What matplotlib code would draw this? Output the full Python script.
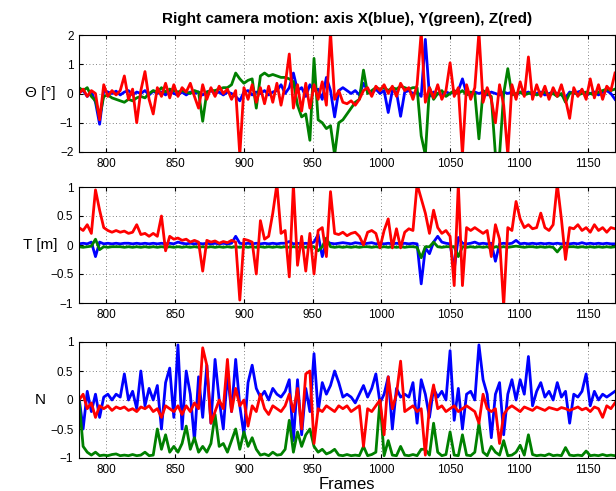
import numpy as np
import matplotlib
matplotlib.use('Agg')
import matplotlib.pyplot as plt

plt.rcParams['font.family'] = ['Liberation Sans', 'DejaVu Sans']

# frame numbers, one sample every 3 frames
frames = np.arange(780, 1171, 3)

# rotation angles [deg]
theta_x = [0.05, 0.1, -0.1, 0.05, -0.3, -1.05, 0.1, 0.05, 0.0, 0.08,
           -0.05, 0.05, 0.1, -0.05, 0.05, 0.0, 0.1, -0.05, 0.08, 0.0,
           0.05, -0.05, 0.1, 0.0, -0.05, 0.05, -0.05, 0.05, 0.0, 0.05,
           -0.05, 0.05, 0.1, 0.0, 0.05, -0.05, 0.05, 0.0, -0.1, -0.25,
           0.05, 0.1, -0.05, 0.05, 0.0, 0.1, -0.05, 0.05, 0.1, 0.3,
           0.0, 0.2, 0.7, 0.1, 0.2, -0.1, 0.3, 0.1, 0.15, -0.2,
           0.55, 0.1, -0.8, 0.1, 0.2, 0.1, 0.0, 0.1, -0.05, 0.35,
           0.1, 0.0, 0.15, 0.0, 0.1, -0.65, 0.1, 0.05, -0.78, 0.05,
           0.1, 0.0, 0.05, -0.1, 1.85, -0.1, 0.05, 0.0, -0.05, 0.05,
           0.0, 0.05, 0.1, 0.5, 0.0, -0.05, 0.05, 0.0, 0.05, -0.05,
           0.05, 0.0, -0.05, 0.05, 0.0, 0.05, -0.05, 0.05, 0.0, 0.05,
           -0.05, 0.0, 0.05, -0.05, 0.0, 0.05, 0.0, -0.05, -0.15, 0.05,
           0.0, 0.05, 0.1, -0.05, 0.0, 0.05, -0.05, 0.05, 0.1, 0.0,
           -0.2]
theta_y = [0.2, 0.1, 0.2, -0.1, -0.25, -0.8, -0.1, -0.05, -0.15, -0.2,
           -0.25, -0.3, -0.2, -0.25, -0.15, -0.1, -0.15, 0.0, 0.1, 0.05,
           0.2, 0.05, 0.15, 0.1, 0.05, 0.1, 0.05, 0.0, 0.1, 0.05,
           -0.95, 0.05, 0.1, 0.1, 0.15, 0.2, 0.2, 0.3, 0.7, 0.5,
           0.35, 0.45, 0.5, -0.5, 0.6, 0.7, 0.6, 0.65, 0.6, 0.55,
           0.55, 0.5, 0.4, -0.4, -0.8, -0.7, -1.6, 1.2, -0.9, -1.0,
           -1.2, -1.1, -2.1, -1.0, -0.9, -0.7, -0.5, -0.3, -0.2, 0.8,
           0.0, 0.1, 0.2, 0.15, 0.2, 0.1, 0.2, 0.15, 0.25, 0.2,
           0.15, 0.2, 0.2, -1.45, -2.1, 0.2, -0.2, 0.0, 0.1, -0.1,
           0.0, 0.1, 0.0, 0.1, -0.05, 0.05, 0.0, -1.55, 0.1, 0.0,
           -0.1, -2.1, -2.1, 0.0, 0.85, -0.05, 0.0, 0.05, -0.05, 0.0,
           0.05, -0.05, 0.0, 0.05, -0.05, 0.0, -0.1, 0.0, -0.3, 0.0,
           0.05, -0.05, 0.0, 0.05, 0.0, -0.05, 0.05, 0.1, 0.15, 0.1,
           0.15]
theta_z = [0.0, 0.15, -0.1, 0.1, 0.0, -0.9, 0.3, -0.1, 0.1, -0.05,
           0.1, 0.6, -0.2, 0.15, -1.0, 0.1, 0.75, -0.2, -0.7, 0.2,
           -0.1, 0.35, -0.15, 0.3, -0.1, 0.2, 0.05, 0.35, -0.1, -0.5,
           0.3, -0.2, 0.2, -0.1, 0.25, 0.0, 0.15, -0.2, 0.1, -2.1,
           0.2, -0.2, 0.3, -0.3, 0.2, -0.35, 0.25, -0.3, 0.35, -0.4,
           0.3, 1.35, -0.5, 0.3, -0.6, 0.35, -0.5, 0.3, -0.2, 0.4,
           -0.4, 2.1, -0.2, 0.1, -0.3, -0.35, -0.25, -0.4, -0.2, 0.1,
           0.2, -0.1, 0.25, 0.1, 0.3, 0.0, 0.25, -0.1, 0.35, 0.1,
           0.2, -0.2, 0.3, 2.1, -0.3, 0.2, -0.15, 0.3, -0.2, 0.1,
           1.05, -0.1, 0.2, -2.1, 0.3, -0.2, 0.2, 2.1, -0.3, 0.2,
           -0.2, -1.0, 0.3, -0.4, -2.1, 0.3, -0.2, 0.4, -0.1, 1.25,
           -0.2, 0.3, -0.1, 0.25, -0.2, 0.2, -0.1, 0.3, -0.2, -0.85,
           0.2, -0.1, 0.15, -0.2, 0.5, -0.15, 0.3, -0.2, 0.25, 0.1,
           0.7]

# translations [m]
t_x = [0.02, 0.03, 0.02, 0.05, -0.2, 0.05, 0.02, 0.03, 0.02, 0.03,
       0.02, 0.03, 0.03, 0.02, 0.03, 0.02, 0.03, 0.02, 0.03, 0.02,
       0.03, 0.02, 0.03, 0.02, 0.05, 0.03, 0.02, 0.03, 0.02, 0.03,
       0.02, 0.03, 0.02, 0.03, 0.02, 0.03, 0.02, 0.03, 0.15, 0.03,
       0.02, 0.03, 0.02, 0.03, 0.02, 0.03, 0.02, 0.03, 0.02, 0.03,
       0.03, 0.06, 0.02, 0.03, 0.02, 0.03, 0.02, 0.05, 0.18, -0.2,
       0.05, 0.03, 0.02, 0.03, 0.04, 0.03, 0.02, 0.04, 0.03, 0.02,
       0.03, 0.04, 0.02, 0.03, 0.02, 0.03, 0.02, 0.03, 0.02, 0.03,
       0.02, 0.03, 0.02, -0.67, -0.05, -0.15, 0.05, 0.15, 0.05, 0.03,
       0.02, -0.42, 0.13, 0.03, 0.02, 0.03, 0.05, 0.02, 0.03, 0.02,
       0.03, -0.28, 0.02, 0.03, 0.02, 0.03, 0.08, 0.02, 0.03, 0.02,
       0.03, 0.02, 0.03, 0.02, 0.03, 0.02, 0.03, 0.02, 0.03, 0.02,
       0.03, 0.02, 0.04, 0.02, 0.03, 0.02, 0.03, 0.02, 0.03, 0.02,
       0.02]
t_y = [-0.03, -0.04, -0.03, -0.02, 0.1, -0.08, -0.03, -0.04, -0.03, -0.03,
       -0.03, -0.04, -0.03, -0.04, -0.03, -0.04, -0.03, -0.04, -0.03, -0.04,
       -0.03, -0.04, -0.03, -0.04, -0.03, -0.04, -0.03, -0.04, -0.03, -0.04,
       -0.03, -0.04, -0.03, -0.04, -0.03, -0.04, -0.03, -0.04, -0.03, -0.04,
       -0.03, -0.04, -0.03, -0.04, -0.03, -0.04, -0.03, -0.04, -0.03, -0.04,
       -0.03, -0.04, -0.03, -0.04, -0.03, -0.04, -0.03, -0.03, -0.1, -0.03,
       0.12, -0.03, -0.04, -0.03, -0.04, -0.03, -0.04, -0.03, -0.04, -0.03,
       -0.03, -0.04, -0.03, -0.04, -0.03, -0.04, -0.03, -0.04, -0.03, -0.04,
       -0.03, -0.03, -0.04, -0.22, -0.03, -0.03, 0.05, -0.03, -0.04, -0.03,
       -0.03, -0.03, -0.2, -0.03, -0.04, -0.03, -0.04, -0.03, -0.04, -0.03,
       -0.06, -0.03, -0.04, -0.03, -0.04, -0.03, -0.02, -0.03, -0.04, -0.03,
       -0.03, -0.04, -0.03, -0.04, -0.03, -0.04, -0.12, -0.03, -0.04, -0.03,
       -0.03, -0.04, -0.03, -0.04, -0.03, -0.04, -0.03, -0.04, -0.03, -0.04,
       -0.03]
t_z = [0.3, 0.25, 0.35, 0.2, 0.95, 0.6, 0.3, 0.25, 0.22, 0.25,
       0.22, 0.24, 0.2, 0.22, 0.35, 0.18, 0.2, 0.15, 0.2, 0.15,
       0.5, -0.1, 0.15, 0.1, 0.12, 0.08, 0.1, 0.05, 0.08, 0.05,
       -0.45, 0.08, 0.05, 0.07, 0.03, 0.06, 0.04, 0.08, 0.05, -0.95,
       0.1, 0.08, 0.05, -0.5, 0.42, 0.1, 0.15, 0.55, 1.05, 0.2,
       0.25, -0.55, 1.05, -0.35, 0.15, -0.45, 0.2, -0.5, 0.25, 0.3,
       -0.2, 0.92, 0.2, 0.18, 0.22, 0.16, 0.2, 0.22, 0.15, 0.0,
       0.22, 0.25, 0.2, -0.05, 0.25, 0.45, -0.05, 0.28, -0.05, 0.22,
       0.28, 0.25, 1.05, 0.8, 0.55, 0.2, 0.6, 0.3, 0.2, 0.25,
       0.15, -0.7, 1.05, -0.7, 0.3, 0.25, 0.3, 0.25, 0.2, 0.25,
       -0.2, 0.35, 0.1, -1.05, 0.3, 0.25, 0.75, 0.45, 0.3, 0.35,
       0.28, 0.3, 0.55, 0.3, 0.25, 0.35, 1.05, 0.45, -0.25, 0.3,
       0.28, 0.35, 0.25, 0.3, 0.22, 0.35, 0.25, 0.3, 0.22, 0.3,
       0.28]

# rotation axis components
n_x = [0.05, -0.5, 0.15, -0.2, 0.1, -0.3, 0.05, 0.1, 0.0, 0.1,
       0.05, 0.45, 0.0, 0.15, -0.15, 0.5, -0.1, 0.2, 0.0, 0.25,
       -0.5, 0.3, 0.55, -0.3, 0.95, -0.5, 0.5, 0.1, -0.7, 0.4,
       -0.3, 0.6, -0.4, 0.7, 0.0, -0.5, 0.45, -0.2, 0.7, -0.1,
       -0.6, 0.3, 0.6, 0.2, 0.05, 0.15, 0.0, 0.2, 0.1, 0.05,
       0.15, 0.35, -0.7, 0.35, -0.6, 0.2, -0.2, 0.8, -0.2, 0.3,
       0.1, 0.25, 0.5, 0.3, 0.05, 0.1, 0.05, -0.05, 0.1, 0.25,
       0.05, 0.2, 0.45, -0.05, 0.1, 0.4, -0.5, 0.2, 0.05, 0.1,
       0.05, 0.3, -0.4, 0.35, 0.1, -0.3, 0.2, 0.05, 0.15, 0.0,
       0.85, -0.35, 0.2, -0.5, 0.1, 0.15, 0.0, 0.95, 0.35, 0.1,
       -0.65, 0.1, 0.3, -0.6, 0.1, 0.35, 0.0, 0.35, 0.1, 0.75,
       -0.1, 0.15, 0.3, 0.05, 0.15, 0.0, 0.3, 0.05, 0.15, -0.4,
       0.1, 0.05, 0.15, 0.45, -0.1, 0.15, 0.0, 0.1, 0.05, 0.1,
       0.15]
n_y = [0.0, -0.8, -0.9, -0.95, -0.9, -0.96, -0.95, -0.96, -0.94, -0.93,
       -0.96, -0.95, -0.96, -0.94, -0.96, -0.95, -0.9, -0.96, -0.95, -0.5,
       -0.85, -0.6, -0.9, -0.8, -0.9, -0.75, -0.45, -0.85, -0.65, -0.9,
       -0.8, -0.9, -0.75, -0.25, -0.8, -0.75, -0.9, -0.7, -0.5, -0.85,
       -0.55, -0.8, -0.65, -0.85, -0.95, -0.93, -0.96, -0.9, -0.95, -0.94,
       -0.85, -0.35, -0.9, -0.55, -0.8, -0.6, -0.5, -0.8, -0.9, -0.85,
       -0.93, -0.9, -0.85, -0.95, -0.96, -0.94, -0.96, -0.95, -0.96, -0.8,
       -0.96, -0.94, -0.9, 0.0, -0.96, -0.7, -0.95, -0.96, -0.8, -0.95,
       -0.96, -0.94, -0.96, -0.85, -0.85, -0.95, -0.4, -0.9, -0.96, -0.94,
       -0.55, -0.95, -0.96, -0.6, -0.95, -0.96, -0.9, -0.4, -0.9, -0.96,
       -0.8, -0.9, -0.95, -0.7, -0.96, -0.95, -0.9, -0.78, -0.95, -0.6,
       -0.94, -0.96, -0.95, -0.96, -0.93, -0.96, -0.95, -0.96, -0.82, -0.95,
       -0.96, -0.95, -0.96, -0.88, -0.96, -0.95, -0.96, -0.94, -0.96, -0.95,
       -0.96]
n_z = [0.0, 0.1, -0.15, -0.05, -0.3, -0.1, -0.15, -0.1, -0.18, -0.12,
       -0.15, -0.12, -0.18, -0.15, -0.2, -0.12, -0.15, -0.1, -0.2, -0.15,
       -0.3, -0.1, -0.15, -0.2, -0.1, -0.25, -0.1, -0.2, -0.05, -0.15,
       0.9, 0.6, -0.4, -0.2, 0.0, -0.15, 0.7, -0.2, 0.2, -0.1,
       0.0, -0.45, -0.1, -0.2, 0.1, -0.15, -0.25, -0.1, -0.15, -0.2,
       -0.1, 0.1, -0.2, 0.2, -0.5, 0.45, 0.5, -0.75, -0.15, -0.2,
       -0.1, -0.15, -0.2, -0.1, -0.15, -0.1, -0.2, -0.15, -0.1, -0.8,
       -0.15, -0.2, -0.1, 0.0, -0.6, 0.4, -0.15, 0.1, 0.67, -0.2,
       -0.15, -0.1, -0.2, -0.15, -0.95, -0.1, 0.26, -0.15, -0.1, -0.2,
       -0.15, -0.1, -0.2, -0.15, -0.1, -0.15, -0.2, -0.4, 0.1, -0.15,
       -0.2, -0.15, -0.75, -0.25, -0.15, -0.1, -0.15, -0.2, -0.12, -0.15,
       -0.18, -0.12, -0.15, -0.18, -0.13, -0.15, -0.17, -0.13, -0.15, -0.18,
       -0.15, -0.12, -0.17, -0.14, -0.2, -0.12, -0.15, -0.3, -0.1, -0.15,
       -0.05]

xticks = [800, 850, 900, 950, 1000, 1050, 1100, 1150]
panels = [
    (theta_x, theta_y, theta_z, 'Θ [°]', (-2, 2), [-2, -1, 0, 1, 2]),
    (t_x, t_y, t_z, 'T [m]', (-1, 1), [-1, -0.5, 0, 0.5, 1]),
    (n_x, n_y, n_z, 'N', (-1, 1), [-1, -0.5, 0, 0.5, 1]),
]
tops = [35, 187, 342]
bottoms = [152, 303, 458]
label_x = [-0.073, -0.072, -0.072]

fig = plt.figure(figsize=(6.16, 4.91), dpi=100)
W, H = 616.0, 491.0
axes = []
for k, (sx, sy, sz, lab, ylim, yt) in enumerate(panels):
    ax = fig.add_axes([79 / W, 1 - bottoms[k] / H, 536 / W, (bottoms[k] - tops[k]) / H])
    ax.plot(frames, sx, color=(0, 0, 1), linewidth=2)
    ax.plot(frames, sy, color=(0, 0.5, 0), linewidth=2)
    ax.plot(frames, sz, color=(1, 0, 0), linewidth=2)
    ax.set_xlim(780, 1170)
    ax.set_ylim(*ylim)
    ax.set_xticks(xticks)
    ax.set_yticks(yt)
    ax.set_yticklabels([('%g' % v).replace('-', '\u2212') for v in yt])
    ax.grid(True, linestyle=(0, (1, 3)), color='0.35', linewidth=0.6)
    ax.tick_params(direction='in', top=True, right=True, labelsize=8.5, length=3, pad=4)
    ax.set_ylabel(lab, rotation=0, fontsize=11, ha='center', va='center')
    ax.yaxis.set_label_coords(label_x[k], 0.5)
    axes.append(ax)

axes[0].set_title('Right camera motion: axis X(blue), Y(green), Z(red)',
                  fontsize=11, fontweight='bold', pad=9)
axes[2].set_xlabel('Frames', fontsize=12, labelpad=1)

fig.savefig('out.png', dpi=100)
